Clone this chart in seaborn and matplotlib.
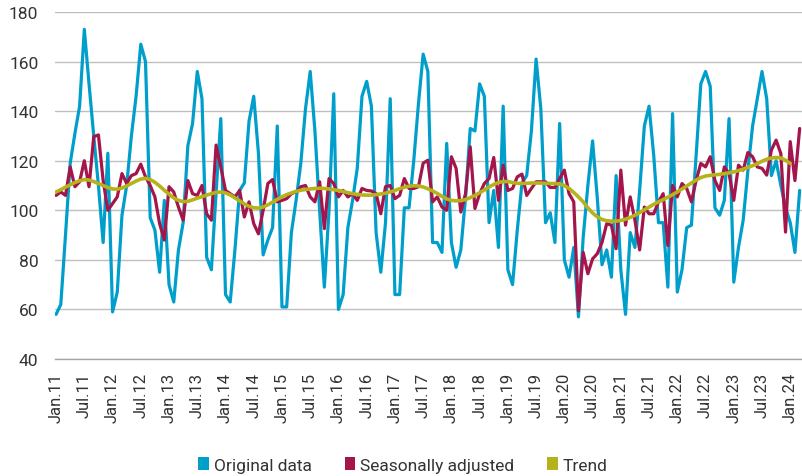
import matplotlib
matplotlib.use("Agg")
import matplotlib.pyplot as plt
from matplotlib import font_manager
from matplotlib.patches import Patch
import numpy as np
import pandas as pd
import seaborn as sns

# ---------------- data (monthly, Jan 2011 - Mar 2024) ----------------
original = [
    58, 62, 90, 119, 131, 142, 173, 151, 130, 110, 87, 123,
    59, 67, 98, 110, 130, 146, 167, 160, 97, 92, 75, 104,
    70, 63, 84, 95, 126, 135, 156, 145, 81, 76, 107, 137,
    66, 63, 84, 108, 111, 136, 146, 123, 82, 88, 93, 134,
    61, 61, 91, 104, 119, 141, 156, 132, 100, 69, 100, 147,
    60, 66, 93, 104, 117, 146, 152, 142, 91, 75, 95, 145,
    66, 66, 101, 101, 120, 143, 163, 156, 87, 87, 83, 127,
    87, 77, 84, 105, 133, 132, 151, 146, 95, 108, 85, 142,
    76, 70, 92, 111, 114, 132, 161, 141, 95, 99, 87, 135,
    80, 73, 85, 57, 89, 110, 128, 105, 78, 84, 73, 114,
    76, 58, 91, 85, 108, 134, 142, 122, 95, 95, 69, 139,
    67, 76, 93, 94, 122, 151, 156, 150, 101, 98, 104, 137,
    71, 85, 96, 116, 134, 145, 156, 145, 114, 120, 110, 101,
    95, 83, 108,
]
seasonally_adjusted = [
    106, 107.4, 106, 117.5, 109.5, 111.5, 120, 109.5, 129.7, 130.4, 112, 100,
    102.7, 105.4, 114.8, 110.8, 114, 114.8, 118.6, 113.5, 110, 105.4, 94.6, 88,
    109.5, 107.4, 101.3, 96, 112, 106.7, 106, 110, 98.6, 96, 126.3, 117.5,
    108, 106.7, 105.4, 108, 97.3, 103.4, 94.6, 90.5, 100, 110.8, 112.4, 103.4,
    104, 104.7, 106.7, 107.4, 109.5, 110, 105.4, 103.4, 111.5, 92.6, 112.8, 110.8,
    105.4, 108, 105.4, 106.7, 104, 108.8, 108, 107.8, 106.7, 98.6, 109.5, 110,
    104.7, 106, 112.8, 108.8, 108.8, 109.5, 119, 120.2, 103.4, 105.4, 101.3, 100,
    121.6, 116.9, 99.3, 106.7, 125.6, 100.7, 106.7, 110.8, 112.8, 121.3, 104, 118.2,
    108, 108.8, 113.5, 114.6, 106, 108.8, 111.5, 111.5, 111.5, 109.2, 109.2, 112.8,
    116.2, 106.7, 103.4, 59.5, 83, 74.4, 80.4, 82.5, 87, 94.6, 94, 84.5,
    116.2, 94, 105.4, 96, 84, 101.3, 98.6, 98.6, 103.4, 106.7, 85.8, 110,
    105.4, 110.8, 108.8, 103.4, 112, 118.9, 117.5, 121.6, 112, 108, 117.5, 114.8,
    104, 118.2, 116.2, 123.3, 121.6, 117.5, 116.9, 114.2, 124.3, 128.3, 122.9, 91.2,
    127.7, 112, 133,
]
trend = [
    107.4, 108.3, 109.3, 110.3, 111.2, 111.9, 112.4, 112.2, 111.6, 110.8, 110.0, 109.2,
    108.6, 108.5, 109.0, 109.8, 110.8, 111.8, 112.6, 112.9, 112.4, 111.3, 109.8, 108.1,
    106.5, 105.0, 104.0, 103.5, 103.6, 104.2, 104.9, 105.5, 106.1, 106.7, 107.2, 107.4,
    107.0, 106.2, 105.0, 103.8, 102.6, 101.6, 101.0, 100.9, 101.3, 102.2, 103.3, 104.4,
    105.4, 106.3, 107.0, 107.6, 108.1, 108.4, 108.6, 108.8, 108.9, 108.8, 108.6, 108.3,
    108.0, 107.6, 107.1, 106.7, 106.4, 106.2, 106.1, 106.1, 106.3, 106.6, 106.9, 107.4,
    108.0, 108.7, 109.3, 109.7, 109.9, 109.8, 109.4, 108.7, 107.8, 106.8, 105.6, 104.6,
    104.0, 103.8, 103.9, 104.3, 105.1, 106.0, 107.1, 108.2, 109.4, 110.4, 111.2, 111.6,
    111.6, 111.2, 110.9, 110.8, 110.9, 111.0, 111.0, 111.0, 110.9, 110.8, 110.8, 110.6,
    110.0, 108.8, 107.2, 105.4, 103.4, 101.0, 98.9, 97.4, 96.3, 95.8, 95.6, 95.6,
    95.9, 96.4, 97.1, 98.0, 99.1, 100.2, 101.3, 102.4, 103.4, 104.3, 105.3, 106.3,
    107.4, 108.6, 109.8, 111.0, 112.2, 113.2, 113.8, 114.1, 114.3, 114.5, 114.8, 115.1,
    115.5, 116.0, 116.6, 117.3, 118.0, 118.8, 119.8, 120.6, 121.1, 121.3, 121.1, 120.2,
    118.9,
]
tick_labels = [
    "Jan.11", "Jul.11", "Jan.12", "Jul.12", "Jan.13", "Jul.13", "Jan.14", "Jul.14",
    "Jan.15", "Jul.15", "Jan.16", "Jul.16", "Jan.17", "Jul.17", "Jan.18", "Jul.18",
    "Jan.19", "Jul.19", "Jan.20", "Jul.20", "Jan.21", "Jul.21", "Jan.22", "Jul.22",
    "Jan.23", "Jul.23", "Jan.24",
]
series_names = ["Original data", "Seasonally adjusted", "Trend"]
colors = ["#009FCB", "#A3154B", "#B6B21C"]

# ---------------- style ----------------
sns.set_style("white")
available = {f.name for f in font_manager.fontManager.ttflist}
fam = [f for f in ["Liberation Sans Narrow", "Roboto", "DejaVu Sans"] if f in available]
plt.rcParams["font.family"] = fam

fig = plt.figure(figsize=(8.02, 4.77), dpi=100)
ax = fig.add_axes([55 / 802, 1 - 360 / 477, 747 / 802, (360 - 13) / 477])

df = pd.DataFrame({
    "month": np.arange(len(original)),
    series_names[0]: original,
    series_names[1]: seasonally_adjusted,
})
df_trend = pd.DataFrame({"month": np.arange(len(trend)), series_names[2]: trend})

sns.lineplot(data=df, x="month", y=series_names[0], ax=ax, color=colors[0], lw=2.3, zorder=3)
sns.lineplot(data=df, x="month", y=series_names[1], ax=ax, color=colors[1], lw=2.3, zorder=4)
sns.lineplot(data=df_trend, x="month", y=series_names[2], ax=ax, color=colors[2], lw=2.6, zorder=5)

ax.set_ylim(40, 180)
ax.set_yticks(range(40, 181, 20))
ax.set_xlim(-0.23, 158.5)
ax.set_xticks(np.arange(0, 157, 6))
ax.set_xticklabels(tick_labels, rotation=90, fontsize=12, color="#333333")
ax.tick_params(axis="y", length=0, labelsize=12.5, labelcolor="#333333", pad=12)
ax.tick_params(axis="x", length=6, width=1, color="#A6A6A6", pad=3)
ax.set_xlabel("")
ax.set_ylabel("")
ax.grid(axis="y", color="#BFBFBF", lw=1)
ax.grid(axis="x", visible=False)
for s in ["top", "right", "left"]:
    ax.spines[s].set_visible(False)
ax.spines["bottom"].set_color("#A6A6A6")
ax.spines["bottom"].set_linewidth(1)

handles = [Patch(facecolor=c, edgecolor="none") for c in colors]
fig.legend(handles, series_names, loc="center", bbox_to_anchor=(403 / 802, 1 - 466 / 477),
           ncol=3, frameon=False, fontsize=12.5, handlelength=0.6, handleheight=0.75,
           handletextpad=0.3, columnspacing=1.9, labelcolor="#333333")

fig.savefig("out.png", dpi=100)
